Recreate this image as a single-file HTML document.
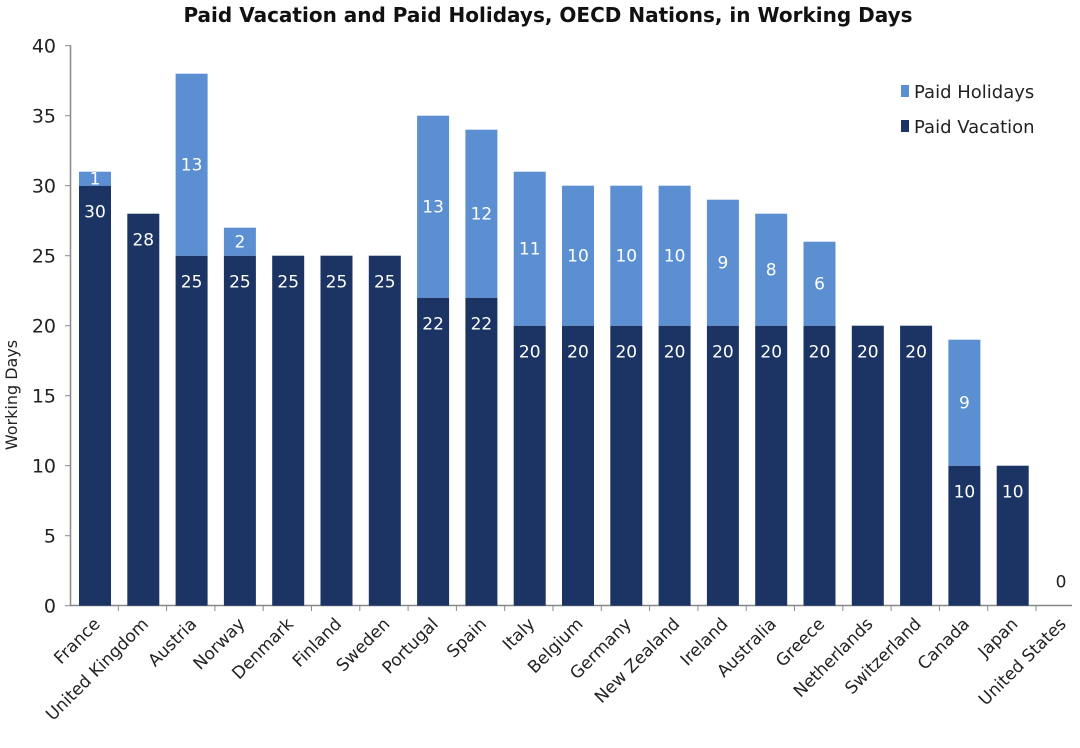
<!DOCTYPE html>
<html><head><meta charset="utf-8"><style>body{margin:0;background:#fff}svg{display:block}</style></head><body>
<svg width="1080" height="748" xmlns="http://www.w3.org/2000/svg" font-family="DejaVu Sans, Liberation Sans, sans-serif">
<text x="548" y="22" text-anchor="middle" font-size="20" font-weight="bold" fill="#111">Paid Vacation and Paid Holidays, OECD Nations, in Working Days</text>
<g stroke="#888" stroke-width="1.5">
<line x1="70.5" y1="45" x2="70.5" y2="606"/>
<line x1="70" y1="605.5" x2="1072" y2="605.5"/>
</g>
<g stroke="#888">
<line x1="65" y1="605.7" x2="70" y2="605.7"/><line x1="65" y1="535.7" x2="70" y2="535.7"/><line x1="65" y1="465.7" x2="70" y2="465.7"/><line x1="65" y1="395.7" x2="70" y2="395.7"/><line x1="65" y1="325.7" x2="70" y2="325.7"/><line x1="65" y1="255.7" x2="70" y2="255.7"/><line x1="65" y1="185.7" x2="70" y2="185.7"/><line x1="65" y1="115.7" x2="70" y2="115.7"/><line x1="65" y1="45.7" x2="70" y2="45.7"/>
<line x1="118.3" y1="606" x2="118.3" y2="611"/><line x1="166.6" y1="606" x2="166.6" y2="611"/><line x1="214.9" y1="606" x2="214.9" y2="611"/><line x1="263.2" y1="606" x2="263.2" y2="611"/><line x1="311.5" y1="606" x2="311.5" y2="611"/><line x1="359.8" y1="606" x2="359.8" y2="611"/><line x1="408.1" y1="606" x2="408.1" y2="611"/><line x1="456.4" y1="606" x2="456.4" y2="611"/><line x1="504.7" y1="606" x2="504.7" y2="611"/><line x1="553" y1="606" x2="553" y2="611"/><line x1="601.3" y1="606" x2="601.3" y2="611"/><line x1="649.6" y1="606" x2="649.6" y2="611"/><line x1="697.9" y1="606" x2="697.9" y2="611"/><line x1="746.2" y1="606" x2="746.2" y2="611"/><line x1="794.5" y1="606" x2="794.5" y2="611"/><line x1="842.8" y1="606" x2="842.8" y2="611"/><line x1="891.1" y1="606" x2="891.1" y2="611"/><line x1="939.4" y1="606" x2="939.4" y2="611"/><line x1="987.7" y1="606" x2="987.7" y2="611"/><line x1="1036" y1="606" x2="1036" y2="611"/>
</g>
<g font-size="19" fill="#222" text-anchor="end">
<text x="56" y="612.7">0</text><text x="56" y="542.7">5</text><text x="56" y="472.7">10</text><text x="56" y="402.7">15</text><text x="56" y="332.7">20</text><text x="56" y="262.7">25</text><text x="56" y="192.7">30</text><text x="56" y="122.7">35</text><text x="56" y="52.7">40</text>
</g>
<text transform="translate(17,395) rotate(-90)" text-anchor="middle" font-size="16" fill="#222">Working Days</text>
<g fill="#1b3463">
<rect x="79" y="185.7" width="32" height="420"/>
<rect x="127.3" y="213.7" width="32" height="392"/>
<rect x="175.6" y="255.7" width="32" height="350"/>
<rect x="223.9" y="255.7" width="32" height="350"/>
<rect x="272.2" y="255.7" width="32" height="350"/>
<rect x="320.5" y="255.7" width="32" height="350"/>
<rect x="368.8" y="255.7" width="32" height="350"/>
<rect x="417.1" y="297.7" width="32" height="308"/>
<rect x="465.4" y="297.7" width="32" height="308"/>
<rect x="513.7" y="325.7" width="32" height="280"/>
<rect x="562" y="325.7" width="32" height="280"/>
<rect x="610.3" y="325.7" width="32" height="280"/>
<rect x="658.6" y="325.7" width="32" height="280"/>
<rect x="706.9" y="325.7" width="32" height="280"/>
<rect x="755.2" y="325.7" width="32" height="280"/>
<rect x="803.5" y="325.7" width="32" height="280"/>
<rect x="851.8" y="325.7" width="32" height="280"/>
<rect x="900.1" y="325.7" width="32" height="280"/>
<rect x="948.4" y="465.7" width="32" height="140"/>
<rect x="996.7" y="465.7" width="32" height="140"/>
</g>
<g fill="#5b8fd2">
<rect x="79" y="171.7" width="32" height="14"/>
<rect x="175.6" y="73.7" width="32" height="182"/>
<rect x="223.9" y="227.7" width="32" height="28"/>
<rect x="417.1" y="115.7" width="32" height="182"/>
<rect x="465.4" y="129.7" width="32" height="168"/>
<rect x="513.7" y="171.7" width="32" height="154"/>
<rect x="562" y="185.7" width="32" height="140"/>
<rect x="610.3" y="185.7" width="32" height="140"/>
<rect x="658.6" y="185.7" width="32" height="140"/>
<rect x="706.9" y="199.7" width="32" height="126"/>
<rect x="755.2" y="213.7" width="32" height="112"/>
<rect x="803.5" y="241.7" width="32" height="84"/>
<rect x="948.4" y="339.7" width="32" height="126"/>
</g>
<g font-size="17" fill="#fff" text-anchor="middle">
<text x="95" y="184.7">1</text><text x="95" y="217.7">30</text>
<text x="143.3" y="245.7">28</text>
<text x="191.6" y="170.7">13</text><text x="191.6" y="287.7">25</text>
<text x="239.9" y="247.7">2</text><text x="239.9" y="287.7">25</text>
<text x="288.2" y="287.7">25</text><text x="336.5" y="287.7">25</text><text x="384.8" y="287.7">25</text>
<text x="433.1" y="212.7">13</text><text x="433.1" y="329.7">22</text>
<text x="481.4" y="219.7">12</text><text x="481.4" y="329.7">22</text>
<text x="529.7" y="254.7">11</text><text x="529.7" y="357.7">20</text>
<text x="578" y="261.7">10</text><text x="578" y="357.7">20</text>
<text x="626.3" y="261.7">10</text><text x="626.3" y="357.7">20</text>
<text x="674.6" y="261.7">10</text><text x="674.6" y="357.7">20</text>
<text x="722.9" y="268.7">9</text><text x="722.9" y="357.7">20</text>
<text x="771.2" y="275.7">8</text><text x="771.2" y="357.7">20</text>
<text x="819.5" y="289.7">6</text><text x="819.5" y="357.7">20</text>
<text x="867.8" y="357.7">20</text><text x="916.1" y="357.7">20</text>
<text x="964.4" y="408.7">9</text><text x="964.4" y="497.7">10</text>
<text x="1012.7" y="497.7">10</text>
<text x="1061" y="587.7" fill="#222">0</text>
</g>
<g font-size="17" fill="#222" text-anchor="end">
<text transform="translate(101,625) rotate(-45)">France</text>
<text transform="translate(149.3,625) rotate(-45)">United Kingdom</text>
<text transform="translate(197.6,625) rotate(-45)">Austria</text>
<text transform="translate(245.9,625) rotate(-45)">Norway</text>
<text transform="translate(294.2,625) rotate(-45)">Denmark</text>
<text transform="translate(342.5,625) rotate(-45)">Finland</text>
<text transform="translate(390.8,625) rotate(-45)">Sweden</text>
<text transform="translate(439.1,625) rotate(-45)">Portugal</text>
<text transform="translate(487.4,625) rotate(-45)">Spain</text>
<text transform="translate(535.7,625) rotate(-45)">Italy</text>
<text transform="translate(584,625) rotate(-45)">Belgium</text>
<text transform="translate(632.3,625) rotate(-45)">Germany</text>
<text transform="translate(680.6,625) rotate(-45)">New Zealand</text>
<text transform="translate(728.9,625) rotate(-45)">Ireland</text>
<text transform="translate(777.2,625) rotate(-45)">Australia</text>
<text transform="translate(825.5,625) rotate(-45)">Greece</text>
<text transform="translate(873.8,625) rotate(-45)">Netherlands</text>
<text transform="translate(922.1,625) rotate(-45)">Switzerland</text>
<text transform="translate(970.4,625) rotate(-45)">Canada</text>
<text transform="translate(1018.7,625) rotate(-45)">Japan</text>
<text transform="translate(1067,625) rotate(-45)">United States</text>
</g>
<rect x="901" y="85" width="8" height="12" fill="#5b8fd2"/><text x="914" y="98" font-size="18" fill="#222">Paid Holidays</text>
<rect x="901" y="120" width="8" height="12" fill="#1b3463"/><text x="914" y="133" font-size="18" fill="#222">Paid Vacation</text>
</svg>
</body></html>
